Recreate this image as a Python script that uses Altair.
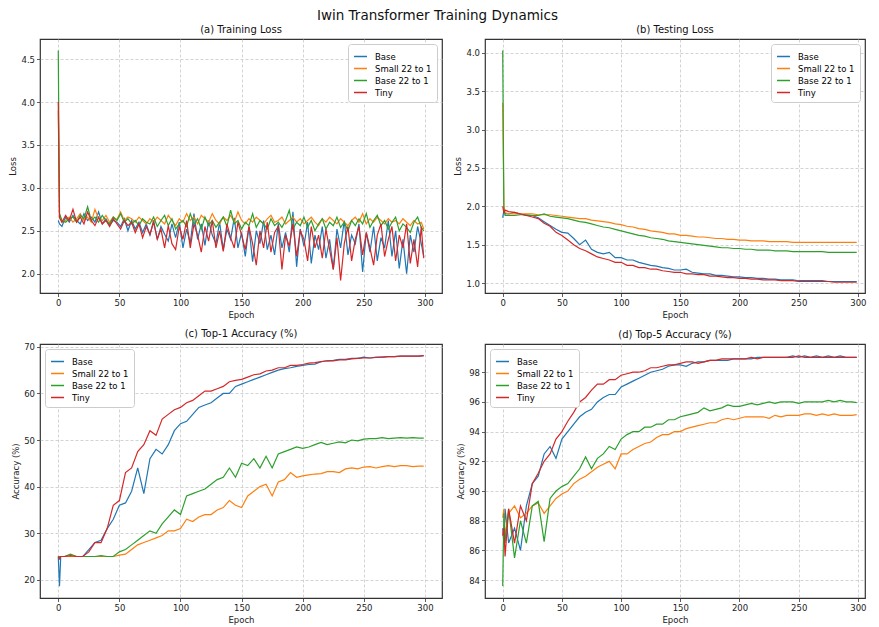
import altair as alt
import pandas as pd

epochs = [0, 1, 2] + list(range(5, 300, 5)) + [299]
epochs_train = [0, 1] + list(range(3, 300, 3)) + [299]
models = ["Base", "Small 22 to 1", "Base 22 to 1", "Tiny"]
colors = ["#1f77b4", "#ff7f0e", "#2ca02c", "#d62728"]
epoch_ticks = [0, 50, 100, 150, 200, 250, 300]

# (a) Training loss (sampled every 3 epochs)
train_base = [2.62, 2.58,
              2.55, 2.66, 2.60, 2.68, 2.62, 2.58, 2.70, 2.62, 2.66, 2.60,
              2.72, 2.58, 2.64, 2.56, 2.62, 2.60, 2.55, 2.64, 2.50, 2.62,
              2.52, 2.60, 2.48, 2.58, 2.45, 2.62, 2.40, 2.55, 2.46, 2.38,
              2.58, 2.42, 2.60, 2.30, 2.52, 2.36, 2.70, 2.40, 2.58, 2.33,
              2.62, 2.45, 2.35, 2.60, 2.28, 2.52, 2.40, 2.65, 2.30, 2.48,
              2.20, 2.55, 2.14, 2.50, 2.35, 2.62, 2.28, 2.45, 2.22, 2.58,
              2.30, 2.48, 2.25, 2.72, 2.08, 2.52, 2.32, 2.60, 2.12, 2.45,
              2.28, 2.55, 2.18, 2.40, 2.05, 2.52, 2.30, 2.62, 2.22, 2.45,
              2.35, 2.58, 2.02, 2.48, 2.25, 2.55, 2.15, 2.42, 2.30, 2.62,
              2.20, 2.50, 2.06, 2.40, 2.00, 2.45, 2.25, 2.55, 2.35,
              2.20]
train_small = [3.90, 2.70,
               2.60, 2.62, 2.66, 2.60, 2.64, 2.70, 2.62, 2.66, 2.60, 2.75,
               2.64, 2.62, 2.68, 2.60, 2.66, 2.63, 2.72, 2.62, 2.66, 2.64,
               2.60, 2.66, 2.62, 2.58, 2.64, 2.60, 2.66, 2.62, 2.58, 2.68,
               2.62, 2.56, 2.64, 2.60, 2.70, 2.62, 2.66, 2.58, 2.68, 2.64,
               2.60, 2.70, 2.62, 2.58, 2.66, 2.62, 2.68, 2.60, 2.72, 2.62,
               2.58, 2.64, 2.60, 2.66, 2.62, 2.58, 2.64, 2.68, 2.60, 2.62,
               2.66, 2.58, 2.62, 2.66, 2.60, 2.64, 2.58, 2.62, 2.66, 2.60,
               2.56, 2.64, 2.60, 2.66, 2.62, 2.58, 2.64, 2.60, 2.56, 2.62,
               2.66, 2.60, 2.70, 2.58, 2.64, 2.60, 2.66, 2.62, 2.58, 2.64,
               2.60, 2.62, 2.58, 2.64, 2.60, 2.56, 2.62, 2.58, 2.60,
               2.52]
train_base22 = [4.60, 2.70,
                2.62, 2.60, 2.64, 2.66, 2.60, 2.68, 2.64, 2.78, 2.62, 2.66,
                2.60, 2.68, 2.62, 2.58, 2.66, 2.62, 2.70, 2.60, 2.64, 2.58,
                2.62, 2.56, 2.64, 2.60, 2.58, 2.66, 2.55, 2.62, 2.68, 2.56,
                2.64, 2.52, 2.58, 2.62, 2.55, 2.70, 2.58, 2.64, 2.52, 2.66,
                2.56, 2.62, 2.54, 2.60, 2.66, 2.55, 2.74, 2.58, 2.62, 2.52,
                2.60, 2.56, 2.70, 2.54, 2.62, 2.58, 2.52, 2.64, 2.56, 2.60,
                2.54, 2.62, 2.74, 2.52, 2.60, 2.56, 2.66, 2.54, 2.62, 2.50,
                2.58, 2.64, 2.52, 2.60, 2.56, 2.66, 2.54, 2.60, 2.50, 2.62,
                2.56, 2.64, 2.58, 2.70, 2.54, 2.62, 2.68, 2.56, 2.62, 2.52,
                2.60, 2.66, 2.50, 2.58, 2.54, 2.48, 2.60, 2.66, 2.54,
                2.50]
train_tiny = [4.00, 2.65,
              2.60, 2.68, 2.62, 2.75, 2.60, 2.66, 2.58, 2.72, 2.62, 2.56,
              2.66, 2.58, 2.62, 2.55, 2.64, 2.58, 2.52, 2.62, 2.56, 2.60,
              2.48, 2.58, 2.42, 2.55, 2.46, 2.60, 2.40, 2.52, 2.30, 2.56,
              2.35, 2.28, 2.55, 2.40, 2.62, 2.30, 2.58, 2.45, 2.25, 2.55,
              2.38, 2.62, 2.30, 2.50, 2.26, 2.58, 2.42, 2.30, 2.60, 2.45,
              2.28, 2.55, 2.35, 2.10, 2.50, 2.30, 2.60, 2.25, 2.48, 2.55,
              2.05, 2.45, 2.32, 2.58, 2.20, 2.50, 2.40, 2.15, 2.55, 2.30,
              2.45, 2.18, 2.52, 2.28, 2.05, 2.42, 1.92, 2.35, 2.55, 2.15,
              2.40, 2.55, 2.22, 2.48, 2.30, 2.10, 2.45, 2.58, 2.20, 2.40,
              2.55, 2.15, 2.45, 2.30, 2.58, 2.12, 2.40, 2.08, 2.55,
              2.18]

# (b) Testing loss
test_base = [1.85, 1.95, 1.90,
             1.90, 1.92, 1.90, 1.88, 1.88, 1.85, 1.80, 1.75, 1.70, 1.66,
             1.65, 1.58, 1.50, 1.56, 1.44, 1.40, 1.38, 1.40, 1.33, 1.33,
             1.30, 1.30, 1.27, 1.25, 1.23, 1.22, 1.20, 1.19, 1.17, 1.17,
             1.18, 1.14, 1.13, 1.12, 1.12, 1.10, 1.10, 1.09, 1.08, 1.08,
             1.07, 1.07, 1.06, 1.06, 1.05, 1.05, 1.04, 1.04, 1.04, 1.03,
             1.03, 1.03, 1.03, 1.03, 1.02, 1.02, 1.02, 1.02, 1.02,
             1.02]
test_small = [3.35, 2.00, 1.92,
              1.90, 1.90, 1.90, 1.90, 1.90, 1.89, 1.89, 1.89, 1.88, 1.87,
              1.86, 1.85, 1.84, 1.84, 1.82, 1.81, 1.80, 1.79, 1.77, 1.76,
              1.74, 1.73, 1.71, 1.70, 1.68, 1.67, 1.66, 1.64, 1.64, 1.62,
              1.62, 1.61, 1.60, 1.60, 1.59, 1.58, 1.58, 1.57, 1.57, 1.56,
              1.56, 1.55, 1.55, 1.55, 1.54, 1.54, 1.54, 1.54, 1.53, 1.53,
              1.53, 1.53, 1.53, 1.53, 1.53, 1.53, 1.53, 1.53, 1.53,
              1.53]
test_base22 = [4.03, 1.95, 1.88,
               1.88, 1.88, 1.89, 1.89, 1.88, 1.88, 1.90, 1.87, 1.86, 1.85,
               1.84, 1.82, 1.80, 1.79, 1.77, 1.75, 1.73, 1.72, 1.70, 1.68,
               1.66, 1.64, 1.62, 1.61, 1.59, 1.58, 1.57, 1.55, 1.54, 1.53,
               1.52, 1.51, 1.50, 1.49, 1.48, 1.47, 1.46, 1.46, 1.45, 1.45,
               1.44, 1.44, 1.43, 1.43, 1.43, 1.42, 1.42, 1.42, 1.41, 1.41,
               1.41, 1.41, 1.41, 1.41, 1.40, 1.40, 1.40, 1.40, 1.40,
               1.40]
test_tiny = [2.00, 1.92, 1.95,
             1.93, 1.92, 1.90, 1.88, 1.86, 1.84, 1.78, 1.74, 1.66, 1.62,
             1.56, 1.50, 1.45, 1.42, 1.38, 1.34, 1.32, 1.30, 1.27, 1.27,
             1.23, 1.23, 1.20, 1.20, 1.18, 1.18, 1.16, 1.15, 1.14, 1.14,
             1.12, 1.12, 1.11, 1.11, 1.09, 1.09, 1.08, 1.07, 1.07, 1.06,
             1.06, 1.05, 1.05, 1.04, 1.04, 1.04, 1.03, 1.03, 1.03, 1.02,
             1.02, 1.02, 1.02, 1.02, 1.02, 1.01, 1.01, 1.01, 1.01,
             1.01]

# (c) Top-1 accuracy
top1_base = [25.0, 18.6, 25.0,
             25.0, 25.0, 25.0, 25.0, 26.5, 28.0, 28.5, 31.0, 33.0, 36.0,
             36.5, 39.0, 44.0, 38.5, 46.0, 48.0, 47.0, 49.0, 52.0, 53.5,
             54.0, 55.5, 57.0, 57.5, 58.0, 59.0, 60.0, 60.0, 61.5, 62.0,
             62.5, 63.0, 63.5, 64.0, 64.5, 65.0, 65.3, 65.5, 65.8, 66.0,
             66.2, 66.3, 66.8, 67.0, 67.1, 67.3, 67.3, 67.5, 67.5, 67.8,
             67.6, 67.8, 67.8, 67.9, 67.9, 68.0, 68.0, 68.0, 68.0,
             68.1]
top1_small = [25.0, 25.0, 25.0,
              25.0, 25.0, 25.0, 25.0, 25.0, 25.0, 25.0, 25.0, 25.0, 25.3,
              25.5, 26.5, 27.5, 28.0, 28.5, 29.0, 29.5, 30.5, 30.5, 31.0,
              33.0, 32.5, 33.5, 34.0, 34.0, 35.0, 35.5, 37.0, 36.0, 35.5,
              38.0, 39.0, 40.0, 40.5, 38.0, 41.0, 41.5, 43.0, 42.0, 42.3,
              42.5, 42.7, 42.8, 43.2, 43.2, 43.0, 43.8, 44.0, 43.8, 44.2,
              44.3, 44.0, 44.3, 44.5, 44.3, 44.5, 44.5, 44.3, 44.4,
              44.4]
top1_base22 = [25.0, 25.0, 25.0,
               25.0, 25.5, 25.0, 25.0, 25.0, 25.0, 25.2, 25.0, 25.0, 26.0,
               26.5, 27.5, 28.5, 29.5, 30.5, 30.0, 32.0, 33.5, 35.0, 34.0,
               38.0, 38.5, 39.0, 39.5, 40.5, 41.5, 42.0, 44.0, 42.0, 45.0,
               44.5, 46.0, 44.0, 46.5, 44.0, 47.0, 47.5, 48.0, 48.5, 48.2,
               48.5, 49.0, 49.5, 49.0, 49.3, 49.6, 49.4, 50.0, 49.8, 50.2,
               50.3, 50.3, 50.5, 50.3, 50.4, 50.5, 50.4, 50.5, 50.4,
               50.4]
top1_tiny = [25.0, 24.5, 25.0,
             25.0, 25.2, 25.0, 25.0, 26.0, 28.0, 28.0, 31.0, 36.0, 37.0,
             43.0, 44.0, 47.5, 49.0, 52.0, 51.0, 54.5, 55.5, 56.5, 57.0,
             58.0, 58.5, 59.5, 60.5, 60.5, 61.0, 61.5, 62.5, 62.8, 63.0,
             63.5, 64.0, 64.2, 64.8, 65.0, 65.5, 65.5, 66.0, 66.0, 66.2,
             66.5, 66.6, 66.8, 67.0, 67.0, 67.2, 67.2, 67.4, 67.5, 67.6,
             67.6, 67.7, 67.8, 67.9, 67.9, 68.0, 68.0, 68.0, 68.0,
             68.1]

# (d) Top-5 accuracy
top5_base = [87.5, 86.5, 88.8,
             86.5, 87.5, 86.0, 89.0, 90.5, 91.0, 92.5, 93.0, 92.2, 93.5,
             94.0, 94.5, 95.0, 95.3, 95.5, 96.0, 96.3, 96.5, 96.5, 97.0,
             97.2, 97.4, 97.6, 97.8, 98.0, 98.1, 98.2, 98.4, 98.5, 98.5,
             98.4, 98.6, 98.7, 98.7, 98.8, 98.8, 98.8, 98.8, 98.9, 98.9,
             98.9, 98.9, 99.0, 99.0, 99.0, 99.0, 99.0, 99.0, 99.1, 99.0,
             99.1, 99.0, 99.1, 99.0, 99.1, 99.0, 99.1, 99.0, 99.0,
             99.0]
top5_small = [88.2, 88.8, 87.0,
              88.5, 89.0, 88.2, 88.5, 89.0, 89.2, 88.5, 89.0, 89.5, 89.8,
              90.0, 90.5, 90.8, 91.0, 91.3, 91.6, 91.8, 92.0, 91.5, 92.5,
              92.5, 92.8, 93.0, 93.2, 93.3, 93.6, 93.8, 93.8, 94.0, 94.0,
              94.2, 94.3, 94.4, 94.5, 94.6, 94.6, 94.8, 94.9, 94.8, 94.9,
              95.0, 95.0, 95.0, 95.0, 94.9, 95.1, 95.0, 95.1, 95.1, 95.1,
              95.2, 95.2, 95.1, 95.2, 95.1, 95.2, 95.1, 95.1, 95.1,
              95.15]
top5_base22 = [83.6, 88.5, 86.5,
               88.8, 85.5, 88.0, 86.5, 89.0, 89.3, 86.6, 89.5, 90.0, 90.3,
               90.5, 91.0, 91.5, 92.3, 91.5, 92.2, 92.5, 93.0, 92.8, 93.5,
               93.8, 94.0, 94.0, 94.3, 94.3, 94.5, 94.5, 94.8, 94.8, 95.0,
               95.1, 95.2, 95.3, 95.6, 95.4, 95.5, 95.6, 95.8, 95.7, 95.7,
               95.8, 95.9, 95.8, 95.9, 96.0, 95.9, 96.0, 96.0, 96.0, 95.9,
               96.0, 96.0, 96.0, 96.0, 96.1, 96.0, 96.1, 96.0, 96.0,
               95.95]
top5_tiny = [87.0, 87.5, 85.6,
             88.8, 86.5, 89.0, 88.0, 90.5, 91.2, 92.0, 92.5, 93.5, 94.0,
             94.7, 95.3, 96.0, 96.3, 96.8, 97.2, 97.2, 97.5, 97.5, 97.8,
             97.9, 98.0, 98.0, 98.1, 98.3, 98.3, 98.4, 98.5, 98.5, 98.6,
             98.7, 98.7, 98.6, 98.7, 98.8, 98.8, 98.9, 98.9, 98.9, 98.9,
             98.9, 99.0, 98.9, 99.0, 99.0, 99.0, 99.0, 99.0, 99.0, 99.1,
             99.0, 99.0, 99.0, 99.0, 99.0, 99.0, 99.0, 99.0, 99.0,
             99.0]

FONT = "DejaVu Sans"


def long_df(xs, series):
    rows = []
    for m, vals in zip(models, series):
        for e, v in zip(xs, vals):
            rows.append({"epoch": e, "model": m, "value": v})
    return pd.DataFrame(rows)


def panel(xs, series, title, ytitle, ydomain, yticks, yfmt, xdomain, width, legend_orient):
    df = long_df(xs, series)
    return alt.Chart(df).mark_line(strokeWidth=1.2, clip=True).encode(
        x=alt.X("epoch:Q",
                scale=alt.Scale(domain=xdomain, nice=False, zero=False),
                axis=alt.Axis(values=epoch_ticks, title="Epoch", format="d")),
        y=alt.Y("value:Q",
                scale=alt.Scale(domain=ydomain, nice=False, zero=False),
                axis=alt.Axis(values=yticks, title=ytitle, format=yfmt)),
        color=alt.Color("model:N",
                        scale=alt.Scale(domain=models, range=colors),
                        legend=alt.Legend(title=None, orient=legend_orient, offset=5,
                                          fillColor="white", strokeColor="#cccccc",
                                          padding=5, cornerRadius=3,
                                          symbolType="stroke", symbolSize=170,
                                          symbolStrokeWidth=1.5,
                                          labelFontSize=8.5, labelFont=FONT,
                                          labelOffset=7, rowPadding=0)),
        order=alt.Order("epoch:Q"),
    ).properties(width=width, height=254,
                 title=alt.TitleParams(title, fontSize=10, font=FONT,
                                       fontWeight="normal", offset=4))


left_x = [-14.95, 313.95]
right_x = [-14.95, 306]
LW = 402
RW = 380

a = panel(epochs_train, [train_base, train_small, train_base22, train_tiny], "(a) Training Loss", "Loss",
          [1.775, 4.735], [2.0, 2.5, 3.0, 3.5, 4.0, 4.5], ".1f", left_x, LW, "top-right")
b = panel(epochs, [test_base, test_small, test_base22, test_tiny], "(b) Testing Loss", "Loss",
          [0.87, 4.18], [1.0, 1.5, 2.0, 2.5, 3.0, 3.5, 4.0], ".1f", right_x, RW, "top-right")
c = panel(epochs, [top1_base, top1_small, top1_base22, top1_tiny], "(c) Top-1 Accuracy (%)", "Accuracy (%)",
          [16.1, 70.6], [20, 30, 40, 50, 60, 70], "d", left_x, LW, "top-left")
d = panel(epochs, [top5_base, top5_small, top5_base22, top5_tiny], "(d) Top-5 Accuracy (%)", "Accuracy (%)",
          [82.8, 99.9], [84, 86, 88, 90, 92, 94, 96, 98], "d", right_x, RW, "top-left")

chart = alt.concat(a, b, c, d, columns=2, spacing={"row": 8, "column": 10}).resolve_scale(
    color="independent", x="independent", y="independent"
).resolve_legend(color="independent").properties(
    title=alt.TitleParams("Iwin Transformer Training Dynamics", fontSize=13.5, font=FONT,
                          fontWeight="normal", anchor="middle", offset=2),
    padding={"left": 0, "top": 0, "right": 0, "bottom": 0},
).configure_view(
    stroke="#333333", strokeWidth=1.2
).configure_axis(
    domain=False,
    grid=True, gridColor="#c8c8c8", gridDash=[3, 2], gridWidth=0.8,
    ticks=True, tickColor="#333333", tickSize=3.5, tickWidth=0.8,
    labelFont=FONT, labelFontSize=8.5, labelColor="#222222", labelPadding=2,
    titleFont=FONT, titleFontSize=8.5, titleFontWeight="normal", titleColor="#222222",
    titlePadding=3,
).configure_title(color="#111111")

chart.save("out.html", embed_options={"renderer": "svg", "actions": False})
